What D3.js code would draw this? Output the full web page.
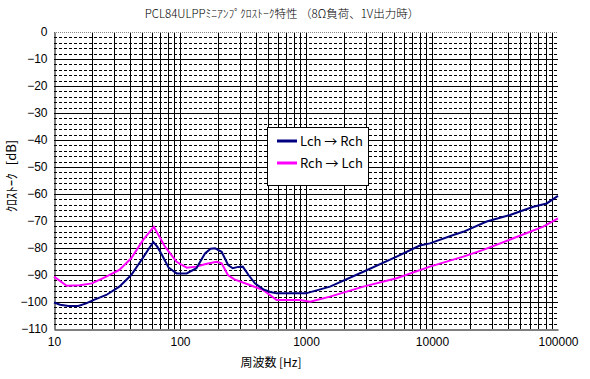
<!DOCTYPE html>
<html><head><meta charset="utf-8">
<script src="https://cdn.jsdelivr.net/npm/d3@7"></script>
<style>
html,body{margin:0;padding:0;background:#fff;}
svg{display:block;}
text{font-family:"Noto Sans CJK JP","Liberation Sans",sans-serif;fill:#000;}
</style></head><body>
<svg id="c" width="590" height="379"></svg>
<script>
const title = "PCL84ULPPﾐﾆｱﾝﾌﾟｸﾛｽﾄｰｸ特性 （8Ω負荷、1V出力時）";
const xTitle = "周波数 [Hz]";
const yTitle = "ｸﾛｽﾄｰｸ [dB]";
const xTicks = [10, 100, 1000, 10000, 100000];
const yTicks = [0, -10, -20, -30, -40, -50, -60, -70, -80, -90, -100, -110];
const seriesNames = ["Lch → Rch", "Rch → Lch"];
const seriesColors = ["#000080", "#ff00ff"];

const lchFreq = [10, 11.2, 13, 15.6, 18, 20.5, 26, 33, 41, 51, 57, 61.5, 66, 72, 81, 94, 113, 135, 158, 175, 190, 214, 241, 262, 290, 315, 350, 393, 459, 520, 585, 700, 1000, 1550, 2850, 5240, 8000, 9620, 14760, 17700, 27150, 41600, 63700, 81300, 100000];
const lchDb = [-100.2, -101, -101.5, -101.5, -100.5, -99.3, -97.4, -94.3, -90, -83.5, -80, -77.8, -79.5, -82.6, -87.2, -89.4, -89.4, -87.5, -82, -80.3, -80.1, -81.4, -86.3, -87.5, -87, -86.9, -90, -93.1, -95.3, -96.3, -96.8, -96.8, -96.8, -94.3, -88.8, -83.2, -79.1, -78.3, -75.2, -74, -70.2, -67.8, -64.7, -63.5, -60.7];

const rchFreq = [10, 12.6, 16, 20, 26, 33, 41, 51, 62, 76, 94, 113, 135, 160, 195, 214, 240, 270, 358, 459, 585, 900, 1078, 1550, 2850, 5240, 9620, 17700, 25500, 44200, 76400, 100000];
const rchDb = [-90.6, -94, -93.8, -93.1, -90.6, -88.1, -83.8, -77, -72.1, -79.5, -85.1, -87.3, -86.9, -85.9, -85.1, -85.7, -90, -91.6, -93.7, -95.6, -99.3, -99.3, -99.9, -98, -94.3, -91.2, -86.9, -83.2, -80.7, -76.4, -72.1, -69];

const L = 54, R = 558, T = 32, B = 329;
const svg = d3.select("#c");
const x = d3.scaleLog().domain([10, 100000]).range([L, R]);
const y = d3.scaleLinear().domain([-110, 0]).range([B, T]);

// minor horizontal dashed
const minorY = d3.range(-108, 0, 2).filter(v => v % 10 !== 0);
svg.append("g").selectAll("line").data(minorY).join("line")
  .attr("x1", L).attr("x2", R).attr("y1", d => Math.round(y(d)) + 0.5).attr("y2", d => Math.round(y(d)) + 0.5)
  .attr("stroke", "#000").attr("stroke-width", 1).attr("stroke-dasharray", "3,2");
// major horizontal
svg.append("g").selectAll("line").data(yTicks.filter(v => v !== 0 && v !== -110)).join("line")
  .attr("x1", L).attr("x2", R).attr("y1", d => Math.round(y(d)) + 0.5).attr("y2", d => Math.round(y(d)) + 0.5)
  .attr("stroke", "#000").attr("stroke-width", 1);
// vertical grid
const vx = [];
for (let dec = 10; dec < 100000; dec *= 10) for (let m = 1; m <= 9; m++) { if (dec * m > 10) vx.push(dec * m); }
svg.append("g").selectAll("line").data(vx).join("line")
  .attr("x1", d => Math.round(x(d)) + 0.5).attr("x2", d => Math.round(x(d)) + 0.5).attr("y1", T).attr("y2", B)
  .attr("stroke", d => d >= 100000 ? "#999" : "#000").attr("stroke-width", 1)
  .attr("stroke-dasharray", d => d >= 100000 ? "1,1" : null);
// top border
svg.append("line").attr("x1", L).attr("x2", R).attr("y1", T + 0.5).attr("y2", T + 0.5)
  .attr("stroke", "#888").attr("stroke-dasharray", "1,1");

// axes
const yAxis = d3.axisLeft(y).tickValues(yTicks).tickSize(0).tickPadding(7);
const gy = svg.append("g").attr("transform", `translate(${L + 0.5},0)`).call(yAxis);
gy.select(".domain").attr("stroke", "#000");
gy.selectAll("text").style("font-family", "'Liberation Sans',sans-serif").style("font-size", "12px");
const xAxis = d3.axisBottom(x).tickValues(xTicks).tickFormat(d3.format("d")).tickSize(0).tickPadding(8);
const gx = svg.append("g").attr("transform", `translate(0,${B + 0.5})`).call(xAxis);
gx.select(".domain").attr("stroke", "#000");
gx.selectAll("text").style("font-family", "'Liberation Sans',sans-serif").style("font-size", "12px");

// lines
const line = d3.line().x(d => x(d[0])).y(d => y(d[1]));
const lchData = lchFreq.map((f, i) => [f, lchDb[i]]);
const rchData = rchFreq.map((f, i) => [f, rchDb[i]]);
svg.append("path").datum(rchData).attr("d", line).attr("fill", "none").attr("stroke", seriesColors[1]).attr("stroke-width", 2);
svg.append("path").datum(lchData).attr("d", line).attr("fill", "none").attr("stroke", seriesColors[0]).attr("stroke-width", 2);

// titles
svg.append("text").attr("x", 282).attr("y", 18).attr("text-anchor", "middle").style("font-size", "11.5px").style("font-weight", "300").text(title);
svg.append("text").attr("x", 271).attr("y", 367).attr("text-anchor", "middle").style("font-size", "12px").text(xTitle);
svg.append("text").attr("transform", "translate(16,176) rotate(-90)").attr("text-anchor", "middle").style("font-size", "13px").attr("word-spacing", "5").text(yTitle);

// legend
const lg = svg.append("g");
lg.append("rect").attr("x", 267.5).attr("y", 127.5).attr("width", 101).attr("height", 58)
  .attr("fill", "#fff").attr("stroke", "#000").attr("stroke-width", 1);
seriesNames.forEach((n, i) => {
  const yy = 141 + i * 22;
  lg.append("line").attr("x1", 277).attr("x2", 297).attr("y1", yy).attr("y2", yy)
    .attr("stroke", seriesColors[i]).attr("stroke-width", 3);
  lg.append("text").attr("x", 300).attr("y", yy + 5).style("font-size", "13px").text(n);
});
</script>
</body></html>
